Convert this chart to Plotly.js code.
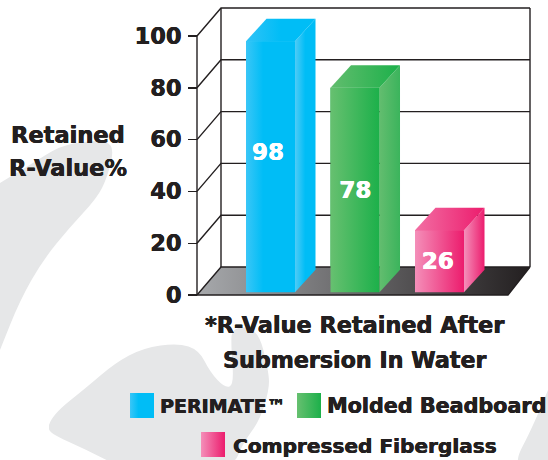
<!DOCTYPE html>
<html><head><meta charset="utf-8">
<script src="https://cdn.plot.ly/plotly-3.0.1.min.js"></script>
<style>html,body{margin:0;padding:0;background:#fff}</style></head>
<body><div id="chart" style="width:548px;height:460px"></div>
<script>
// ---- data ----
const materials = ['PERIMATE™', 'Molded Beadboard', 'Compressed Fiberglass'];
const barLabels = ['98', '78', '26'];            // printed on the bars
const barTops = [98, 80, 25];                    // heights as drawn against the axis
const barBase = 1.1;
const labelHeights = [54.2, 39.8, 12.2];
const tickValues = [0, 20, 40, 60, 80, 100];
const frontScales = [
  [[0,'#3ac6f7'],[0.35,'#00bdf6'],[1,'#00bdf6']],
  [[0,'#67c070'],[1,'#1cb04a']],
  [[0,'#f48fb9'],[1,'#ec1c6d']]];
const sideScales = [
  [[0,'#4fcbf6'],[0.5,'#00bdf6'],[1,'#00bdf6']],
  [[0,'#63bd6f'],[1,'#3bb45c']],
  [[0,'#f490ba'],[1,'#ec1c6d']]];
const topScales = [
  [[0,'#30c3f7'],[0.5,'#00bdf6'],[1,'#00bdf6']],
  [[0,'#62bd6e'],[1,'#1cb04a']],
  [[0,'#f26ea3'],[1,'#ec1c6d']]];
const flatColors = ['#00bdf6', '#1cb04a', '#ec1c6d'];
const floorScale = [[0,'#a7a9ac'],[1,'#231f20']];

// ---- geometry of the fake 3D ----
const W = 548, H = 460, L = 197;
const pxX = 84.5, pxY = 2.59, x0 = 270.5, y0 = 295;
const X = p => (p - x0) / pxX, Y = p => (y0 - p) / pxY;
const halfBar = 0.29, barDx = 20.5 / pxX, barDy = 22.5 / pxY;
const wallDx = 24 / pxX, wallDy = 28 / pxY;
const left = X(L), floorFrontR = X(508), wallR = X(530);
const ink = '#231f20', FONT = 'DejaVu Sans, sans-serif';
const heavy = c => '0.4px 0 0 '+c+', -0.2px 0 0 '+c;
const poly = (xs, ys, scale) => ({type:'scatter', mode:'lines', x:xs, y:ys, fill:'toself',
  line:{width:0}, fillcolor:'rgba(0,0,0,0)', fillgradient:{type:'horizontal', colorscale:scale},
  hoverinfo:'skip', showlegend:false, cliponaxis:false});
const traces = [];

// bars (base trace)
traces.push({type:'bar', x:[0,1,2], y:barTops.map(v=>v-barBase), base:barBase, width:halfBar*2,
  marker:{color:flatColors, line:{width:0}}, hoverinfo:'skip', showlegend:false});

// floor
traces.push(poly([left,floorFrontR,wallR,left+wallDx,left],[0,0,wallDy,wallDy,0],floorScale));
// wall lines
const lx=[], ly=[];
tickValues.forEach(v=>{
  lx.push(left,left+wallDx,wallR,null); ly.push(v,v+wallDy,v+wallDy,null);
});
lx.push(left,left,null,left+wallDx,left+wallDx,null,wallR,wallR,null,left,floorFrontR,wallR);
ly.push(0,100,null,wallDy,100+wallDy,null,wallDy,100+wallDy,null,0,0,wallDy);
traces.push({type:'scatter',mode:'lines',x:lx,y:ly,line:{color:ink,width:1.4},hoverinfo:'skip',showlegend:false,cliponaxis:false,connectgaps:false});

// bar faces
barTops.forEach((v,i)=>{
  const a=i-halfBar,b=i+halfBar;
  traces.push(poly([a,b,b,a,a],[barBase,barBase,v,v,barBase],frontScales[i]));
  traces.push(poly([b,b+barDx,b+barDx,b,b],[barBase,barBase+barDy,v+barDy,v,barBase],sideScales[i]));
  traces.push(poly([a,b,b+barDx,a+barDx,a],[v,v,v+barDy,v+barDy,v],topScales[i]));
});
// value labels
traces.push({type:'scatter',mode:'text',x:[-0.03,1.003,1.98],y:labelHeights,text:barLabels,
  textposition:'middle center',textfont:{family:FONT,size:23,color:'#fff',weight:700,shadow:heavy('#fff')},hoverinfo:'skip',showlegend:false,cliponaxis:false});

// legend swatches
const swatches=[[130,393],[297,393],[201,432]];
swatches.forEach((s,i)=>traces.push(poly(
  [X(s[0]),X(s[0]+24),X(s[0]+24),X(s[0]),X(s[0])],
  [Y(s[1]+25),Y(s[1]+25),Y(s[1]),Y(s[1]),Y(s[1]+25)],frontScales[i])));

// background blobs, in page pixels
const PX = p => p/W, PY = p => (H-p)/H;
function smooth(pts){
  let d='M'+PX(pts[0][0])+','+PY(pts[0][1]);
  for(let i=1;i<pts.length-1;i++){
    const m=[(pts[i][0]+pts[i+1][0])/2,(pts[i][1]+pts[i+1][1])/2];
    d+=' Q'+PX(pts[i][0])+','+PY(pts[i][1])+' '+PX(m[0])+','+PY(m[1]);
  }
  const e=pts[pts.length-1];
  return d+' L'+PX(e[0])+','+PY(e[1])+' Z';
}
const blobs=[
 [[0,183],[33,163],[60,146],[87,141],[107,141],[114,150],[107,178],[97,198],[70,227],[43,260],[20,300],[0,350],[0,350]],
 [[49,425],[52,415],[87,387],[115,363],[143,348],[178,343],[199,350],[210,372],[225,388],[234,385],[231,345],[232,327],[258,328],[269,373],[269,390],[260,420],[243,443],[232,470],[126,470],[87,450],[49,433],[49,425]],
 [[552,380],[535,423],[510,470],[552,470],[552,470]]];
const shapes=blobs.map(b=>({type:'path',xref:'paper',yref:'paper',path:smooth(b),fillcolor:'#e6e7e8',line:{width:0},layer:'below'}));

// texts
const txt=(s,px,py,size,anchor)=>({xref:'paper',yref:'paper',x:PX(px),y:PY(py),text:s,showarrow:false,
  xanchor:anchor||'center',yanchor:'middle',align:'center',font:{family:FONT,size:size,color:ink,weight:700,shadow:heavy(ink)},borderpad:0,borderwidth:0,captureevents:false});
const annotations=[
 txt('Retained',68,135,22.5), txt('R-Value%',68,168,22.5),
 txt('*R-Value Retained After',354,325,22.4), txt('Submersion In Water',354,360,22.2),
 txt(materials[0],160,406,19,'left'), txt(materials[1],327,406,20.7,'left'), txt(materials[2],233,446,20.1,'left')
];

Plotly.newPlot('chart',traces,{
  width:W,height:H,autosize:false,margin:{l:0,r:0,t:0,b:0,pad:0},
  paper_bgcolor:'#fff',plot_bgcolor:'rgba(0,0,0,0)',showlegend:false,
  xaxis:{range:[X(0),X(W)],visible:false,fixedrange:true},
  yaxis:{range:[Y(H),Y(0)],anchor:'free',position:L/W,tickmode:'array',tickvals:tickValues,ticks:'outside',ticklen:9,tickwidth:1.4,tickcolor:ink,ticklabelstandoff:2,
    showgrid:false,zeroline:false,showline:false,tickfont:{family:FONT,size:22.5,color:ink,weight:700,shadow:heavy(ink)},fixedrange:true},
  shapes:shapes,annotations:annotations
},{displayModeBar:false,staticPlot:true});
</script></body></html>
